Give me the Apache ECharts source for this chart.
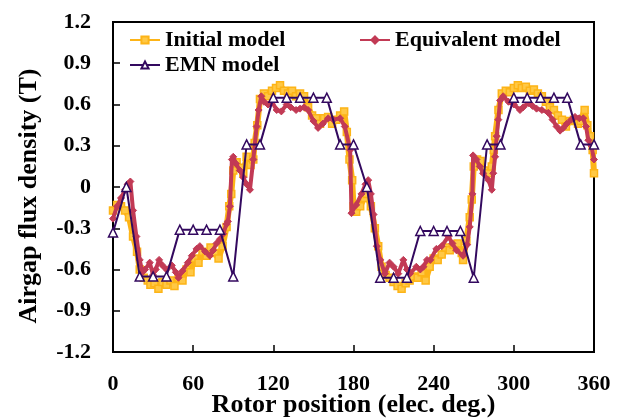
<!DOCTYPE html>
<html>
<head>
<meta charset="utf-8">
<script src="https://cdn.jsdelivr.net/npm/echarts@6/dist/echarts.min.js"></script>
<style>
html,body{margin:0;padding:0;background:#fff;}
#chart{width:619px;height:419px;}
</style>
</head>
<body>
<div id="chart"></div>
<script>
// ---- Data ----
const xTicks = [0, 60, 120, 180, 240, 300, 360];
const yTicks = [-1.2, -0.9, -0.6, -0.3, 0, 0.3, 0.6, 0.9, 1.2];
const seriesNames = ['Initial model', 'Equivalent model', 'EMN model'];

const initialDeg = [0,3,6,9,12,15,18,20,23,26,28,31,34,37,40,43,46,49,52,55,58,61,64,67,70,73,76,79,82,85,87,88.5,90,92.5,95,97.5,100,103,105,106,108,110,113,116,119,122,125,128,131,134,137,140,143,146,149,152,155,158,161,164,167,170,173,175,177,179,180,182,185,188,190,193,196,198.5,201,204,207,210,213,216,219,222,225,228,231,234,237,240,243,246,249,252,255,258,261,262,264.5,267,268.5,270,272.5,275,278,281,283.5,285,286,288.5,291,294,297,300,303,306,309,312,315,318,321,324,327,330,333,336,339,342,345,348,350,353,355,357,359,360];
const initialVal = [-0.17,-0.13,-0.14,-0.17,-0.22,-0.36,-0.47,-0.6,-0.66,-0.68,-0.71,-0.70,-0.74,-0.69,-0.71,-0.68,-0.72,-0.66,-0.68,-0.6,-0.62,-0.52,-0.55,-0.47,-0.5,-0.44,-0.48,-0.52,-0.43,-0.29,-0.14,-0.05,0.12,0.18,0.14,0.10,0.22,0.16,0.2,0.32,0.45,0.64,0.68,0.66,0.70,0.72,0.74,0.70,0.68,0.70,0.66,0.68,0.66,0.58,0.52,0.50,0.46,0.50,0.51,0.46,0.49,0.52,0.55,0.4,0.2,0.05,-0.14,-0.18,-0.14,-0.08,-0.05,-0.14,-0.3,-0.43,-0.58,-0.64,-0.66,-0.69,-0.72,-0.74,-0.70,-0.68,-0.65,-0.66,-0.62,-0.68,-0.58,-0.52,-0.53,-0.49,-0.44,-0.46,-0.42,-0.41,-0.48,-0.53,-0.39,-0.22,-0.09,0.15,0.2,0.19,0.12,0.10,0.15,0.27,0.37,0.56,0.68,0.70,0.69,0.72,0.74,0.72,0.73,0.70,0.71,0.68,0.66,0.62,0.58,0.56,0.52,0.49,0.44,0.48,0.49,0.46,0.48,0.56,0.45,0.37,0.27,0.10];

const equivDeg = [0,3,6,9,11,13,15,17.5,20,22,24,27.5,30,32,34.5,37,40,44,47,49,52,56,59,62.5,65,69,72.5,75,77.5,80,82.5,85,86,87.5,89,90,92,95,97.5,100,102.5,105,107.5,109,111,113,116,119,122.5,126,130,133,137,140,143,146,150,153.5,157,161,165,170,173.5,177.5,178.5,182,186,189,191,193,195,197.5,200,203.5,207,210,213.5,217.3,220,222.3,227,230,232.3,235,237.5,242,246,251,254,257,262,265,267,269,269.5,272,274.5,277,281,283.5,284.6,286,287.2,288.4,289.7,292,296,300,304.6,307,310.8,314,317,321,325.8,329,332,334.6,337,339.6,343,345.8,349,352,354,355.8,358,360];
const equivVal = [-0.23,-0.14,-0.08,-0.02,0.02,0.04,-0.17,-0.36,-0.53,-0.62,-0.6,-0.55,-0.64,-0.6,-0.53,-0.57,-0.6,-0.57,-0.62,-0.66,-0.61,-0.55,-0.5,-0.45,-0.43,-0.47,-0.5,-0.46,-0.41,-0.38,-0.34,-0.27,-0.25,-0.14,0.2,0.22,0.17,0.12,0.07,0.02,-0.02,0.2,0.44,0.56,0.66,0.62,0.6,0.62,0.56,0.55,0.6,0.58,0.56,0.57,0.58,0.56,0.48,0.43,0.46,0.5,0.49,0.5,0.44,0.27,-0.19,-0.13,-0.05,0.02,0.05,-0.05,-0.2,-0.43,-0.53,-0.63,-0.55,-0.58,-0.63,-0.53,-0.6,-0.63,-0.58,-0.6,-0.58,-0.53,-0.53,-0.45,-0.43,-0.36,-0.41,-0.46,-0.5,-0.42,-0.29,-0.05,0.23,0.2,0.15,0.1,0.05,-0.02,0.1,0.22,0.37,0.49,0.63,0.66,0.62,0.6,0.56,0.58,0.61,0.59,0.57,0.56,0.54,0.49,0.44,0.41,0.43,0.46,0.49,0.51,0.5,0.5,0.44,0.34,0.3,0.2];

const emnDeg = [0,10,20,30,40,50,60,70,80,90,100,110,120,130,140,150,160,170,180,190,200,210,220,230,240,250,260,270,280,290,300,310,320,330,340,350,360];
const emnVal = [-0.33,0,-0.65,-0.65,-0.65,-0.31,-0.31,-0.31,-0.31,-0.65,0.31,0.31,0.65,0.65,0.65,0.65,0.65,0.31,0.31,0,-0.66,-0.66,-0.66,-0.32,-0.32,-0.32,-0.32,-0.66,0.31,0.31,0.65,0.65,0.65,0.65,0.65,0.31,0.31];

// ---- Build the chart ----
const zip = (xs, ys) => xs.map((x, i) => [x, ys[i]]);
const FONT = 'Liberation Serif';
const colors = ['#FDB417', '#C23A55', '#33095F'];

const chart = echarts.init(document.getElementById('chart'), null, {renderer: 'canvas'});
const legendText = {fontFamily: FONT, fontWeight: 'bold', fontSize: 22, color: '#000'};
chart.setOption({
  animation: false,
  backgroundColor: '#fff',
  grid: {left: 113, top: 22, right: 25, bottom: 67, containLabel: false, outerBoundsMode: 'none',
    show: true, borderColor: '#000', borderWidth: 2, backgroundColor: 'transparent'},
  legend: [
    {data: [seriesNames[0]], left: 129, top: 29, padding: 0, itemWidth: 30, itemHeight: 9, textStyle: legendText},
    {data: [seriesNames[1]], left: 359, top: 29, padding: 0, itemWidth: 30, itemHeight: 9, textStyle: legendText},
    {data: [seriesNames[2]], left: 129, top: 54, padding: 0, itemWidth: 30, itemHeight: 9, textStyle: legendText}
  ],
  xAxis: {
    type: 'value', min: xTicks[0], max: xTicks[xTicks.length - 1], interval: 60,
    name: 'Rotor position (elec. deg.)', nameLocation: 'middle', nameGap: 40, nameMoveOverlap: false,
    nameTextStyle: {fontFamily: FONT, fontWeight: 'bold', fontSize: 26, color: '#000'},
    axisLine: {onZero: false, lineStyle: {color: '#000', width: 2}},
    axisTick: {inside: true, length: 7, lineStyle: {color: '#000', width: 1.5}},
    axisLabel: {margin: 21, fontFamily: FONT, fontWeight: 'bold', fontSize: 22, color: '#000'},
    splitLine: {show: false}
  },
  yAxis: {
    type: 'value', min: yTicks[0], max: yTicks[yTicks.length - 1], interval: 0.3,
    name: 'Airgap flux density (T)', nameLocation: 'middle', nameGap: 71,
    nameTextStyle: {fontFamily: FONT, fontWeight: 'bold', fontSize: 26, color: '#000', padding: [0, 18, 0, 0]},
    axisLine: {onZero: false, lineStyle: {color: '#000', width: 2}},
    axisTick: {inside: true, length: 7, lineStyle: {color: '#000', width: 1.5}},
    axisLabel: {margin: 22, fontFamily: FONT, fontWeight: 'bold', fontSize: 22, color: '#000',
      formatter: v => { const t = yTicks.find(k => Math.abs(k - v) < 1e-6); return t === 0 ? '0' : t.toFixed(1); }},
    splitLine: {show: false}
  },
  series: [
    {name: seriesNames[0], type: 'line', data: zip(initialDeg, initialVal), color: colors[0],
     lineStyle: {width: 6, color: colors[0]}, symbol: 'rect', symbolSize: 7,
     itemStyle: {color: '#FFC845', borderColor: colors[0], borderWidth: 1.5}, z: 2},
    {name: seriesNames[1], type: 'line', data: zip(equivDeg, equivVal), color: colors[1],
     lineStyle: {width: 4, color: colors[1]}, symbol: 'diamond', symbolSize: 7,
     itemStyle: {color: colors[1], borderColor: colors[1], borderWidth: 1}, z: 3},
    {name: seriesNames[2], type: 'line', data: zip(emnDeg, emnVal), color: colors[2],
     lineStyle: {width: 2, color: colors[2]}, symbol: 'triangle', symbolSize: 9,
     itemStyle: {color: '#fff', borderColor: colors[2], borderWidth: 1.5}, z: 4}
  ]
});
</script>
</body>
</html>
